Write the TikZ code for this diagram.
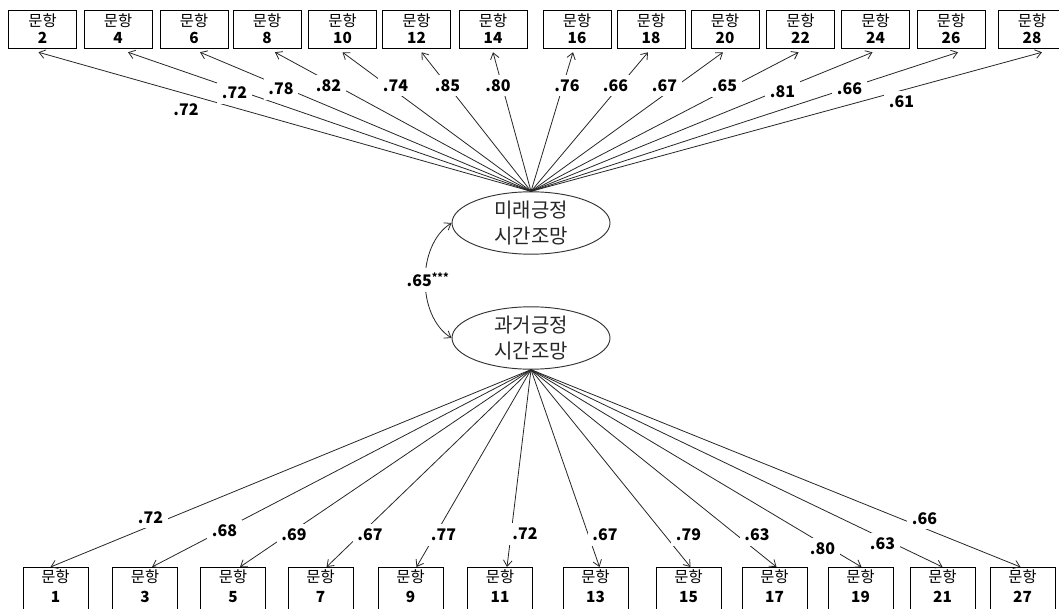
\documentclass[tikz,border=0pt]{standalone}
\usepackage{fontspec}
\setmainfont{Noto Sans CJK KR}
\usetikzlibrary{arrows.meta,shapes.geometric,calc}
\begin{document}
\begin{tikzpicture}[x=0.75pt,y=-0.75pt,>={Straight Barb[length=4.5pt,width=6.5pt]},font=\fontsize{11.5}{12.75}\selectfont]
\tikzstyle{item}=[draw,minimum width=51pt,minimum height=28.5pt,inner sep=1pt,align=center]
\tikzstyle{itemlow}=[item,anchor=north,minimum height=0pt,inner ysep=1.5pt,minimum width=48.75pt,text depth=25pt,font=\fontsize{11.5}{15.4}\selectfont]
\tikzstyle{coef}=[fill=white,inner sep=3.5pt,font=\fontsize{12}{14}\selectfont\bfseries]
\tikzstyle{factor}=[draw=black!80,line width=0.7pt,ellipse,minimum width=118.5pt,minimum height=42pt,inner sep=0pt,align=center,text=black!85,font=\fontsize{15}{19.5}\selectfont]
\tikzstyle{load}=[->,draw=black!85,line width=0.6pt]
\useasboundingbox (0,0) rectangle (1059,609);
\node[factor] (fut) at (531,223) {미래긍정\\시간조망};
\node[factor] (past) at (531,338) {과거긍정\\시간조망};
\foreach \n/\x/\dx in {2/42.5/-4,4/118/10,6/194/6,8/267/8,10/342.5/0,12/416.5/5,14/493/0,16/577/-4,18/651/-3,20/725/-2,22/800.5/-2,24/875.5/-3,26/951/7,28/1032/10} { \node[item] (t\n) at (\x,29) {문항\\\textbf{\n}}; \draw[load] (fut.north) -- ($(t\n.south)+(\dx,4)$); }
\foreach \n/\x/\dx in {1/55.5/-5,3/145/7,5/233/7,7/320.5/6,9/410.5/6,11/500/7,13/595.5/4,15/688.5/2,17/774.5/2,19/860.5/1,21/942.5/0,27/1022.5/-2} { \node[itemlow] (b\n) at (\x,567) {문항\\\textbf{\n}}; \draw[load] (past.south) -- ($(b\n.north)+(\dx,0)$); }
\draw[<->,draw=black!85,line width=0.6pt] (fut.west) .. controls +(-35,22) and +(-35,-22) .. (past.west);
\foreach \n/\lx/\ly/\val in {2/186/110/.72,4/234.5/93/.72,6/281/89/.78,8/328.5/85.5/.82,10/395.5/85.5/.74,12/447.5/85.5/.85,14/498/85.5/.80,16/567/85.5/.76,18/615.5/85.5/.66,20/664.5/85.5/.67,22/724.5/86/.65,24/782.5/91.5/.81,26/849.5/88.5/.66,28/901.5/101.5/.61} \node[coef] (ct\n) at (\lx,\ly) {\val};
\foreach \n/\lx/\ly/\val in {1/150.5/517.5/.72,3/224.5/531/.68,5/294/535/.69,7/370/535/.67,9/443.5/535/.77,11/525/534/.72,13/605/535/.67,15/688.5/535/.79,17/757/535/.63,19/822.5/548.5/.80,21/882.5/543.5/.63,27/924.5/518.5/.66} \node[coef] (cb\n) at (\lx,\ly) {\val};
\node[coef,anchor=base] (corr) at (428,287) {.65\textsuperscript{***}};
\end{tikzpicture}
\end{document}
